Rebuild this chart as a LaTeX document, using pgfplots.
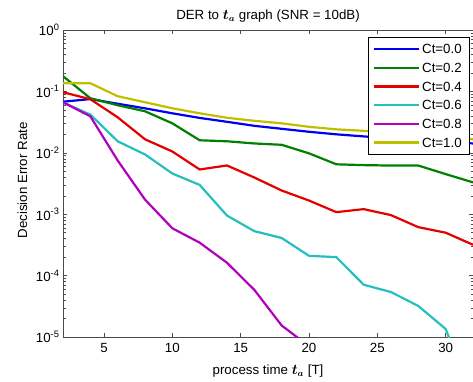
\documentclass[border=0pt]{standalone}
\usepackage{amsmath}
\usepackage{pgfplots}
\pgfplotsset{compat=1.18}
\usepackage{fontspec}
\setmainfont{Liberation Sans}
\definecolor{mblue}{rgb}{0,0,0.95}
\definecolor{mgreen}{rgb}{0,0.5,0}
\definecolor{mred}{rgb}{0.9,0,0}
\definecolor{mcyan}{rgb}{0.15,0.75,0.75}
\definecolor{mmag}{rgb}{0.7,0,0.75}
\definecolor{myel}{rgb}{0.75,0.75,0}
\newcommand{\ff}{\fontsize{13.3pt}{16pt}\selectfont}
\begin{document}
\begin{tikzpicture}
\path[use as bounding box] (-63pt,-44pt) rectangle (410pt,337pt);
\begin{axis}[
  scale only axis,
  width=410pt, height=307pt,
  ymode=log,
  xmin=2, xmax=32, ymin=1e-5, ymax=1,
  xtick={5,10,15,20,25,30},
  xticklabels={5,10,15,20,25,30},
  ytick={1e-5,1e-4,1e-3,1e-2,1e-1,1},
  yticklabels={10\textsuperscript{-5},10\textsuperscript{-4},10\textsuperscript{-3},10\textsuperscript{-2},10\textsuperscript{-1},10\textsuperscript{0}},
  tick align=inside,
  xtick pos=both, ytick pos=both,
  major tick length=4pt, minor tick length=2.5pt,
  axis line style={black!70},
  every tick/.style={black!70},
  tick label style={font=\ff},
  xticklabel style={yshift=-3pt},
  title={DER to $\boldsymbol{t_a}$ graph (SNR = 10dB)},
  title style={font=\ff, at={(axis description cs:0.5,1)}, anchor=base, yshift=4.5pt},
  xlabel={process time $\boldsymbol{t_a}$ [T]},
  xlabel style={font=\ff, at={(axis description cs:0.5,0)}, anchor=base, yshift=-37pt},
  ylabel={Decision Error Rate},
  ylabel style={font=\ff, at={(axis description cs:-0.0878,0.51)}, anchor=base},
  legend style={font=\ff, at={(axis description cs:0.990,0.977)}, anchor=north east,
    draw=black, fill=white, inner xsep=5pt, inner ysep=5pt, row sep=5.2pt,
    nodes={inner sep=2pt, text height=9.5pt, text depth=0pt}},
  legend cell align=left,
  legend image code/.code={\draw[#1] (0pt,0pt) -- (45pt,0pt);},
  every axis plot/.append style={line width=2.2pt, line join=round},
]
\addplot[mblue] coordinates {(2,0.068) (4,0.075) (6,0.063) (8,0.053) (10,0.044) (12,0.037) (14,0.032) (16,0.0275) (18,0.0246) (20,0.022) (22,0.020) (24,0.0185) (26,0.0172) (28,0.016) (30,0.0151) (32,0.0142)};
\addlegendentry{Ct=0.0}
\addplot[mgreen] coordinates {(2,0.177) (4,0.0774) (6,0.0595) (8,0.0475) (10,0.0302) (12,0.016) (14,0.0154) (16,0.0142) (18,0.0135) (20,0.0098) (22,0.0065) (24,0.0063) (26,0.0062) (28,0.0062) (30,0.0045) (32,0.0033)};
\addlegendentry{Ct=0.2}
\addplot[mred] coordinates {(2,0.097) (4,0.0746) (6,0.0379) (8,0.0166) (10,0.0105) (12,0.00535) (14,0.00622) (16,0.00396) (18,0.00243) (20,0.00167) (22,0.00108) (24,0.00121) (26,0.000966) (28,0.000615) (30,0.0005) (32,0.000318)};
\addlegendentry{Ct=0.4}
\addplot[mcyan] coordinates {(2,0.066) (4,0.042) (6,0.0154) (8,0.0094) (10,0.0046) (12,0.003) (14,0.00095) (16,0.00053) (18,0.00041) (20,0.00021) (22,0.0002) (24,7.1e-5) (26,5.4e-5) (28,3.2e-5) (30,1.35e-5) (32,1e-6)};
\addlegendentry{Ct=0.6}
\addplot[mmag] coordinates {(2,0.0666) (4,0.0393) (6,0.0075) (8,0.00173) (10,0.00059) (12,0.000344) (14,0.000162) (16,5.86e-5) (18,1.54e-5) (20,7.1e-6)};
\addlegendentry{Ct=0.8}
\addplot[myel] coordinates {(2,0.136) (4,0.136) (6,0.0835) (8,0.0666) (10,0.0531) (12,0.044) (14,0.0372) (16,0.0332) (18,0.0302) (20,0.0265) (22,0.0241) (24,0.0228) (26,0.0207) (28,0.0192) (30,0.0179) (32,0.0166)};
\addlegendentry{Ct=1.0}
\end{axis}
\end{tikzpicture}
\end{document}
